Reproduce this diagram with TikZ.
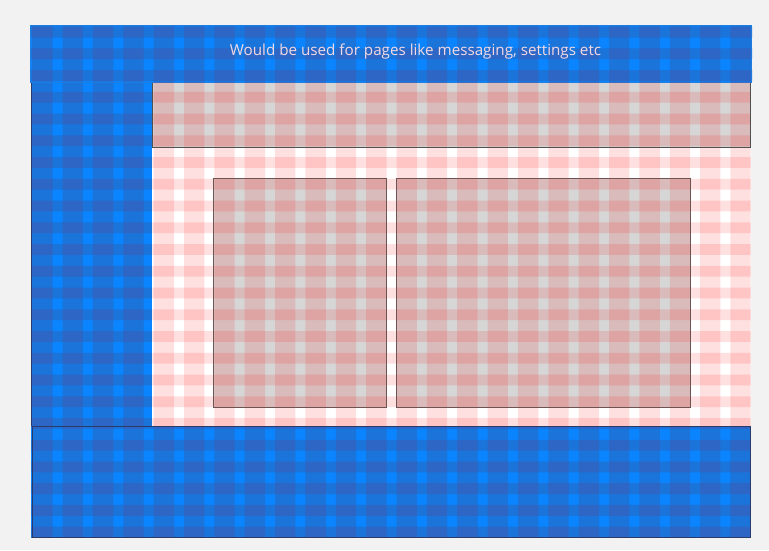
\documentclass[tikz,border=0pt]{standalone}
\usepackage{fontspec}
\setmainfont{Open Sans}
\definecolor{pagebg}{HTML}{F2F2F2}
\definecolor{blueB}{HTML}{0A84FF}
\definecolor{blueM}{HTML}{1A74DA}
\definecolor{blueD}{HTML}{2D66C4}
\definecolor{blueedge}{HTML}{1E7DE0}
\definecolor{navyline}{HTML}{2A3B6B}
\definecolor{boxgray}{HTML}{D6D6D6}
\definecolor{barline}{HTML}{505050}
\definecolor{cardline}{HTML}{6E5353}
\definecolor{gridred}{HTML}{FF0000}
\definecolor{headtext}{HTML}{F2DAE4}
\tikzset{
  navy/.style={draw=navyline, line width=1pt},
  cardbox/.style={draw=cardline, line width=0.8pt},
  headlabel/.style={text=headtext, font=\fontsize{15.2}{18}\selectfont, inner sep=0pt}
}
\newcommand{\gridcols}[2]{\foreach \i in {0,...,23} {({32.2+\i*30.36},#1) rectangle ({52.56+\i*30.36},#2)}}
\newcommand{\gridrows}[2]{\foreach \j in {0,...,23} {(#1,{26.7+\j*21.74}) rectangle (#2,{37.5+\j*21.74})}}
\begin{document}
\begin{tikzpicture}[x=1pt,y=-1pt]
\useasboundingbox (0,0) rectangle (769,550);
\fill[pagebg] (0,0) rectangle (769,550);

% ---------- blue regions ----------
\fill[blueB] (30,25) rectangle (752,82.5);
\fill[blueB] (31,82.5) rectangle (152.3,426);
\fill[blueB] (31,426) rectangle (750.5,537.5);
\begin{scope}
  \clip (30,25) rectangle (752,82.5) (31,82) rectangle (152.3,426.5) (31,425.5) rectangle (750.5,537.5);
  \fill[blueM] \gridcols{0}{550};
  \fill[blueM] \gridrows{0}{769};
  \begin{scope}
    \clip \gridcols{0}{550};
    \fill[blueD] \gridrows{0}{769};
  \end{scope}
\end{scope}
\draw[blueedge, line width=1pt] (30.5,25.5) rectangle (751.5,82.5);

% ---------- pink frame ----------
\fill[white] (152.3,147.3) rectangle (750.5,426);
\node[fill=boxgray, inner sep=0pt, minimum width=598.2pt, minimum height=64.8pt, anchor=north west] (topbar) at (152.3,82.5) {};
\node[fill=boxgray, inner sep=0pt, minimum width=172.5pt, minimum height=228.5pt, anchor=north west] (cardA) at (213,178.5) {};
\node[fill=boxgray, inner sep=0pt, minimum width=293pt, minimum height=228.5pt, anchor=north west] (cardB) at (396.5,178.5) {};
\begin{scope}
  \clip (152.3,82.5) rectangle (750.5,426);
  \fill[gridred, fill opacity=0.12] \gridcols{0}{550};
  \fill[gridred, fill opacity=0.12] \gridrows{0}{769};
\end{scope}
\draw[barline, line width=1pt] (topbar.north west) -- (topbar.south west) -- (topbar.south east) -- (topbar.north east);
\draw[cardbox] (cardA.north west) rectangle (cardA.south east);
\draw[cardbox] (cardB.north west) rectangle (cardB.south east);

% ---------- blue borders ----------
\coordinate (sideTop) at (31.5,82.5);
\coordinate (sideBot) at (31.5,426);
\draw[navy] (sideTop) -- (sideBot);
\node[navy, inner sep=0pt, minimum width=718pt, minimum height=111.5pt, anchor=north west] (footer) at (31.5,425.8) {};

% ---------- header text ----------
\node[headlabel] (title) at (415.5,51.5) {Would be used for pages like messaging, settings etc};
\end{tikzpicture}
\end{document}
